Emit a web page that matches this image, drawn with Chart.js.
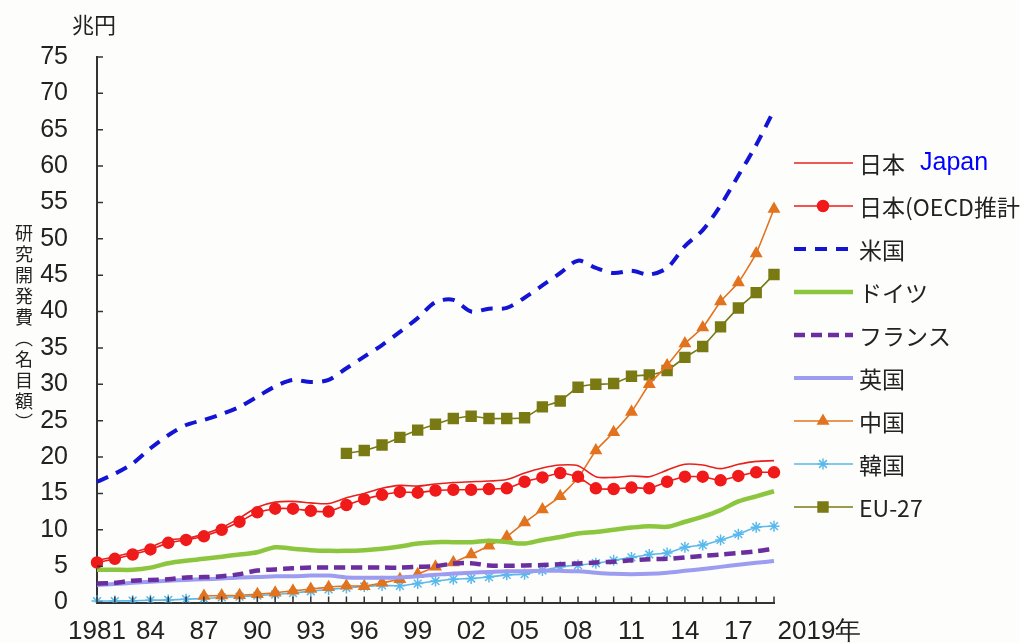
<!DOCTYPE html>
<html lang="ja">
<head>
<meta charset="utf-8">
<script src="https://cdn.jsdelivr.net/npm/chart.js@4.4.1/dist/chart.umd.min.js"></script>
<style>
  body { margin: 0; background: #fdfefc; }
  #wrap { position: relative; width: 1020px; height: 643px; }
  #unit { position: absolute; left: 72px; top: 7px; font: 22px "Noto Sans CJK JP"; color: #222; }
  #ytitle { position: absolute; left: 11px; top: 224px; writing-mode: vertical-rl; font: 18px "Noto Sans CJK JP"; color: #222; letter-spacing: 3px; }
</style>
</head>
<body>
<div id="wrap">
  <canvas id="plots" width="1020" height="643"></canvas>
  <div id="unit">兆円</div>
  <div id="ytitle">研究開発費（名目額）</div>
</div>
<script>
// years on the x axis
var years = [1981, 1982, 1983, 1984, 1985, 1986, 1987, 1988, 1989, 1990,
             1991, 1992, 1993, 1994, 1995, 1996, 1997, 1998, 1999, 2000,
             2001, 2002, 2003, 2004, 2005, 2006, 2007, 2008, 2009, 2010,
             2011, 2012, 2013, 2014, 2015, 2016, 2017, 2018, 2019];

// R&D spending, trillion yen (nominal)
var japan = [5.8, 6.3, 6.9, 7.6, 8.6, 8.8, 9.4, 10.3, 11.6, 13.1,
             13.8, 13.9, 13.7, 13.6, 14.4, 15.0, 15.7, 16.1, 16.0, 16.3,
             16.5, 16.6, 16.7, 16.9, 17.8, 18.5, 18.9, 18.8, 17.3, 17.2,
             17.4, 17.3, 18.2, 19.0, 18.9, 18.4, 19.0, 19.4, 19.5];
var japanOecd = [5.5, 6.0, 6.6, 7.3, 8.2, 8.6, 9.1, 10.0, 11.1, 12.4,
                 12.9, 12.9, 12.6, 12.5, 13.4, 14.2, 14.8, 15.2, 15.1, 15.4,
                 15.5, 15.5, 15.6, 15.7, 16.6, 17.2, 17.8, 17.3, 15.7, 15.6,
                 15.8, 15.7, 16.6, 17.3, 17.3, 16.8, 17.4, 17.9, 17.9];
var usa = [16.6, 17.7, 19.1, 21.2, 23.0, 24.4, 25.1, 25.9, 26.9, 28.3,
           29.7, 30.6, 30.3, 30.6, 32.2, 33.8, 35.4, 37.2, 39.1, 41.3,
           41.6, 40.0, 40.4, 40.5, 41.9, 43.6, 45.3, 47.0, 46.0, 45.3,
           45.6, 45.1, 46.0, 49.0, 51.2, 54.6, 58.7, 62.9, 67.7];
var germany = [4.5, 4.5, 4.5, 4.8, 5.4, 5.75, 6.0, 6.3, 6.6, 6.9,
               7.6, 7.4, 7.2, 7.1, 7.1, 7.2, 7.4, 7.7, 8.1, 8.3,
               8.3, 8.3, 8.5, 8.3, 8.1, 8.6, 9.0, 9.5, 9.7, 10.0,
               10.3, 10.5, 10.4, 11.1, 11.8, 12.7, 13.9, 14.6, 15.3];
var france = [2.6, 2.7, 3.0, 3.1, 3.2, 3.45, 3.5, 3.6, 3.9, 4.4,
              4.55, 4.7, 4.8, 4.8, 4.8, 4.8, 4.8, 4.8, 4.9, 5.0,
              5.35, 5.4, 5.1, 5.05, 5.1, 5.15, 5.25, 5.35, 5.5, 5.6,
              5.8, 5.95, 6.0, 6.2, 6.4, 6.6, 6.8, 7.05, 7.4];
var uk = [2.4, 2.55, 2.7, 2.85, 3.0, 3.1, 3.2, 3.3, 3.45, 3.5,
          3.6, 3.6, 3.7, 3.7, 3.45, 3.4, 3.4, 3.45, 3.6, 3.8,
          4.0, 4.1, 4.2, 4.3, 4.3, 4.35, 4.35, 4.3, 4.1, 3.95,
          3.9, 3.95, 4.1, 4.35, 4.6, 4.9, 5.2, 5.45, 5.7];
var china = [null, null, null, null, null, null, 0.9, 0.95, 1.0, 1.15,
             1.35, 1.6, 1.85, 2.1, 2.3, 2.25, 2.7, 3.2, 3.9, 4.9,
             5.5, 6.6, 7.8, 9.05, 11.0, 12.8, 14.6, 17.1, 20.9, 23.4,
             26.2, 30.0, 32.6, 35.6, 37.8, 41.4, 44.0, 48.0, 54.1];
var korea = [0.2, 0.2, 0.25, 0.3, 0.35, 0.45, 0.55, 0.7, 0.8, 0.95,
             1.1, 1.3, 1.55, 1.8, 2.0, 2.2, 2.35, 2.3, 2.6, 2.95,
             3.2, 3.3, 3.5, 3.8, 3.9, 4.4, 4.9, 5.15, 5.4, 5.8,
             6.2, 6.6, 6.8, 7.6, 7.9, 8.6, 9.4, 10.35, 10.5];
var eu27 = [null, null, null, null, null, null, null, null, null, null,
            null, null, null, null, 20.5, 20.9, 21.65, 22.7, 23.7, 24.5,
            25.3, 25.6, 25.3, 25.3, 25.4, 26.9, 27.7, 29.6, 30.0, 30.1,
            31.1, 31.3, 31.9, 33.7, 35.2, 37.9, 40.5, 42.6, 45.1];

function line(label, data, color, width, dash, tension) {
    return {
        label: label, data: data,
        borderColor: color, backgroundColor: color,
        borderWidth: width, borderDash: dash,
        pointRadius: 0, tension: tension, fill: false
    };
}
function marked(label, data, color, style, radius) {
    return {
        label: label, data: data,
        borderColor: color, backgroundColor: color,
        borderWidth: 1.6, borderDash: [],
        pointStyle: style, pointRadius: radius,
        pointBackgroundColor: color, pointBorderColor: color, pointBorderWidth: 1.5,
        tension: 0.15, fill: false
    };
}

var datasets = [
    line('日本', japan, '#e8201e', 1.6, [], 0.3),
    marked('日本(OECD推計)', japanOecd, '#f01a1a', 'circle', 5.5),
    line('米国', usa, '#1414d4', 4, [12, 9], 0.3),
    line('ドイツ', germany, '#8cc63e', 4.5, [], 0.3),
    line('フランス', france, '#6a2e9e', 4.5, [11, 6], 0.3),
    line('英国', uk, '#9c9cf0', 4, [], 0.3),
    marked('中国', china, '#e2731f', 'triangle', 6),
    marked('韓国', korea, '#5ab9ec', 'star', 5.5),
    marked('EU-27', eu27, '#7a7a14', 'rect', 7)
];
datasets[0].legendNote = 'Japan';

// short tick marks pointing into the plot
var innerTicks = {
    id: 'innerTicks',
    afterDraw: function (chart) {
        var ctx = chart.ctx, x = chart.scales.x, y = chart.scales.y;
        ctx.save();
        ctx.strokeStyle = '#333';
        ctx.lineWidth = 1.5;
        ctx.beginPath();
        y.ticks.forEach(function (t) {
            var py = y.getPixelForValue(t.value);
            ctx.moveTo(y.right, py);
            ctx.lineTo(y.right + 6, py);
        });
        x.ticks.forEach(function (t, i) {
            var px = x.getPixelForTick(i);
            ctx.moveTo(px, x.top);
            ctx.lineTo(px, x.top - 6);
        });
        ctx.stroke();
        ctx.restore();
    }
};

// legend on the right, built from the dataset styles
var sideLegend = {
    id: 'sideLegend',
    afterDraw: function (chart) {
        var ctx = chart.ctx;
        chart.data.datasets.forEach(function (ds, i) {
            var y = 163 + i * 43;
            ctx.save();
            ctx.strokeStyle = ds.borderColor;
            ctx.lineWidth = ds.borderWidth;
            ctx.setLineDash(ds.borderDash || []);
            ctx.beginPath();
            ctx.moveTo(794, y);
            ctx.lineTo(853, y);
            ctx.stroke();
            ctx.setLineDash([]);
            if (ds.pointRadius) {
                ctx.fillStyle = ds.pointBackgroundColor;
                ctx.strokeStyle = ds.pointBorderColor;
                ctx.lineWidth = 1.5;
                Chart.helpers.drawPoint(ctx, {pointStyle: ds.pointStyle, radius: ds.pointRadius, rotation: 0, borderWidth: 1.5}, 823, y);
            }
            ctx.fillStyle = '#222';
            ctx.font = '23px "Noto Sans CJK JP"';
            ctx.textBaseline = 'middle';
            ctx.fillText(ds.label, 859, y + 1);
            if (ds.legendNote) {
                ctx.fillStyle = '#0000ff';
                ctx.font = '25px "Liberation Sans"';
                ctx.fillText(ds.legendNote, 920, y);
            }
            ctx.restore();
        });
    }
};

new Chart(document.getElementById('plots'), {
    type: 'line',
    data: { labels: years, datasets: datasets },
    options: {
        responsive: false,
        animation: false,
        layout: { padding: { top: 57, right: 246, left: 0, bottom: 0 } },
        plugins: { legend: { display: false }, tooltip: { enabled: false } },
        scales: {
            x: {
                grid: { display: false },
                border: { color: '#333', width: 2 },
                ticks: {
                    autoSkip: false, maxRotation: 0, minRotation: 0, padding: 6,
                    color: '#222',
                    font: { family: '"Liberation Sans"', size: 26 },
                    callback: function (v, i) {
                        var yr = years[i];
                        if (i === 0) return String(yr);
                        if (i === years.length - 1) return '\u2003\u2003\u2003\u2002' + yr + '年';
                        if ((yr - 1981) % 3 === 0) return String(yr).slice(2);
                        return '';
                    }
                },
                afterFit: function (s) { s.height = 40.5; }
            },
            y: {
                min: 0, max: 75,
                grid: { display: false },
                border: { color: '#333', width: 2 },
                ticks: {
                    stepSize: 5, padding: 21, color: '#222',
                    font: { family: '"Liberation Sans"', size: 25 }
                },
                afterFit: function (s) { s.width = 97; }
            }
        }
    },
    plugins: [innerTicks, sideLegend]
});
</script>
</body>
</html>
